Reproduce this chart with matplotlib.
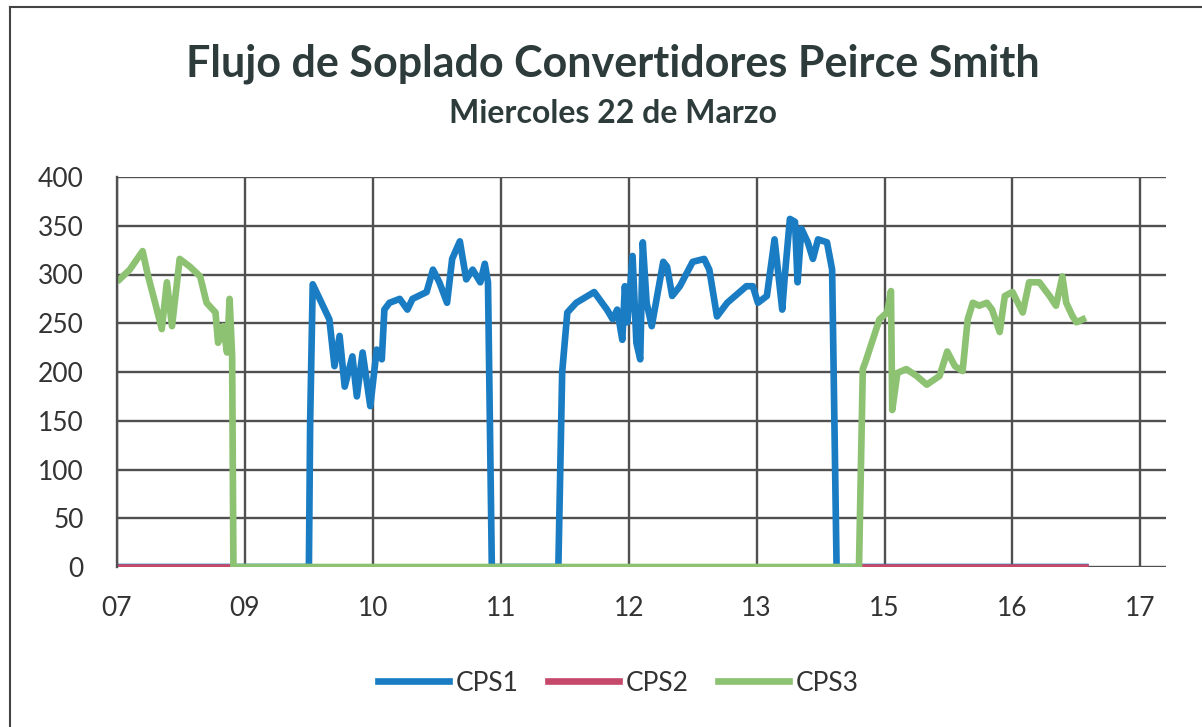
import numpy as np
import matplotlib
matplotlib.use("Agg")
import matplotlib.pyplot as plt
from matplotlib.lines import Line2D

# --- datos (eje x en posiciones de categoria: 0 = "07", 1 = "09", ...) ---
hour_labels = ["07", "09", "10", "11", "12", "13", "15", "16", "17"]

cps1_x = [0.00, 1.50, 1.51, 1.53, 1.66, 1.70, 1.74, 1.78, 1.84, 1.875, 1.92, 1.98,
          2.03, 2.07, 2.09, 2.13, 2.21, 2.27, 2.31, 2.42, 2.47, 2.52, 2.58, 2.62,
          2.68, 2.73, 2.78, 2.84, 2.875, 2.90, 2.93, 3.45, 3.48, 3.52, 3.59, 3.73,
          3.83, 3.875, 3.91, 3.95, 3.97, 3.99, 4.03, 4.06, 4.09, 4.11, 4.14, 4.18,
          4.27, 4.30, 4.34, 4.40, 4.50, 4.59, 4.63, 4.69, 4.77, 4.92, 4.97, 5.01,
          5.08, 5.14, 5.20, 5.22, 5.26, 5.30, 5.32, 5.35, 5.40, 5.44, 5.48, 5.55,
          5.59, 5.625, 7.57]
cps1_y = [0, 0, 150, 290, 254, 206, 237, 185, 216, 175, 220, 165,
          223, 213, 264, 271, 275, 264, 275, 282, 305, 292, 271, 316,
          334, 295, 305, 292, 311, 292, 0, 0, 200, 261, 271, 282,
          264, 254, 264, 233, 288, 251, 319, 230, 213, 333, 271, 247,
          313, 308, 278, 288, 313, 316, 305, 257, 271, 288, 288, 271,
          278, 336, 264, 298, 357, 354, 292, 347, 333, 316, 336, 333,
          305, 0, 0]

cps2_x = [0.00, 7.57]
cps2_y = [0, 0]

cps3_x = [0.02, 0.10, 0.20, 0.24, 0.30, 0.35, 0.39, 0.43, 0.49, 0.57, 0.65,
          0.70, 0.77, 0.79, 0.83, 0.86, 0.88, 0.90, 0.91, 5.80, 5.83, 5.85,
          5.96, 6.02, 6.05, 6.06, 6.10, 6.17, 6.25, 6.33, 6.43, 6.49, 6.55,
          6.61, 6.65, 6.69, 6.74, 6.80, 6.84, 6.90, 6.94, 7.00, 7.08, 7.13,
          7.21, 7.29, 7.34, 7.39, 7.42, 7.47, 7.50, 7.55]
cps3_y = [295, 305, 324, 300, 270, 244, 292, 247, 316, 308, 298,
          271, 261, 230, 247, 220, 275, 216, 0, 0, 203, 210,
          254, 261, 283, 161, 199, 203, 196, 187, 196, 221, 206,
          201, 254, 271, 268, 271, 264, 241, 278, 282, 261, 292,
          292, 278, 268, 298, 271, 257, 251, 254]

y_ticks = [0, 50, 100, 150, 200, 250, 300, 350, 400]

# --- figura ---
plt.rcParams['font.family'] = ['Lato', 'DejaVu Sans']
text_color = '#333333'
title_color = '#2e3b3b'
grid_color = '#505050'

fig = plt.figure(figsize=(12.02, 7.27), dpi=100)
ax = fig.add_axes([117 / 1202, 1 - 567 / 727, (1166 - 117) / 1202, (567 - 177) / 727])

ax.plot(cps1_x, cps1_y, color='#1a7dc4', linewidth=4.8, solid_joinstyle='round', label='CPS1')
ax.plot(cps2_x, cps2_y, color='#c5496a', linewidth=4.8, label='CPS2')
ax.plot(cps3_x, cps3_y, color='#8dc272', linewidth=4.8, solid_joinstyle='round', label='CPS3')

ax.set_xlim(0, 8.2)
ax.set_ylim(0, 400)
ax.set_xticks(range(len(hour_labels)))
ax.set_xticklabels(hour_labels)
ax.set_yticks(y_ticks)
ax.grid(True, color=grid_color, linewidth=1.7)
ax.set_axisbelow(True)
for side in ['top', 'right', 'bottom']:
    ax.spines[side].set_visible(False)
ax.spines['left'].set_color(grid_color)
ax.spines['left'].set_linewidth(1.7)
ax.tick_params(length=0, labelsize=19, colors=text_color)
ax.tick_params(axis='x', pad=21)
ax.tick_params(axis='y', pad=24)

# titulos
fig.text(0.51, 1 - 77 / 727, 'Flujo de Soplado Convertidores Peirce Smith',
         ha='center', va='baseline', fontsize=31, fontweight='bold', color=title_color)
fig.text(0.51, 1 - 123 / 727, 'Miercoles 22 de Marzo',
         ha='center', va='baseline', fontsize=23, fontweight='bold', color=title_color)

ax.legend(loc='center', bbox_to_anchor=(0.478, -0.298), ncol=3, frameon=False,
          fontsize=19, handlelength=2.7, handletextpad=0.25, columnspacing=1.1,
          labelcolor=text_color, bbox_transform=ax.transAxes)

# marco de la figura (izquierda y arriba)
fig.add_artist(Line2D([10 / 1202, 10 / 1202], [0, 1 - 7 / 727], color='#444444', linewidth=1.5))
fig.add_artist(Line2D([10 / 1202, 1], [1 - 7 / 727, 1 - 7 / 727], color='#444444', linewidth=1.5))

fig.savefig('out.png', dpi=100)
